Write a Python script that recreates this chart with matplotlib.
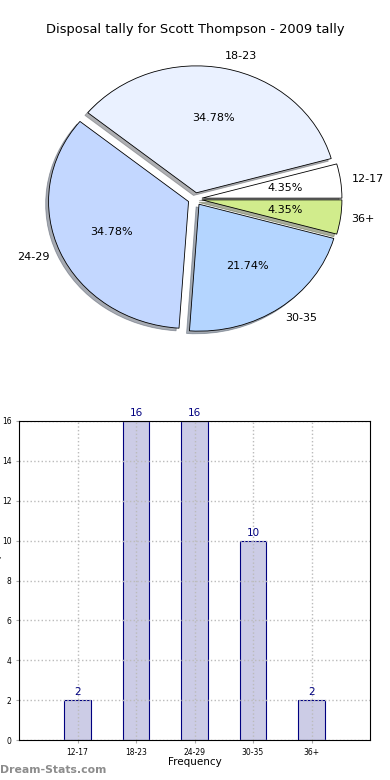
import numpy as np
import matplotlib
matplotlib.use("Agg")
import matplotlib.pyplot as plt

# Data
groups = ["12-17", "18-23", "24-29", "30-35", "36+"]
counts = [2, 16, 16, 10, 2]
pie_colors = ["#ffffff", "#eaf1ff", "#c3d7ff", "#b4d5ff", "#d1ec8c"]

fig = plt.figure(figsize=(3.9, 7.8), dpi=100)

# Pie (elliptical, like the old matplotlib output)
ax1 = fig.add_axes([0.0333, 0.5333, 0.9333, 0.4231])
wedges, texts, autotexts = ax1.pie(
    counts, labels=groups, colors=pie_colors, explode=[0.05] * 5,
    autopct="%.2f%%", startangle=0,
    shadow={"ox": -0.015, "oy": -0.015, "shade": 0.6},
    wedgeprops=dict(edgecolor="black", linewidth=0.6),
    textprops=dict(fontsize=8))
for t in texts:
    x0, y0 = t.get_position()
    t.set_position((x0 - 0.02 * np.sign(x0), y0))
ax1.set_aspect("auto")
ax1.set_xlim(-1.3, 1.3)
ax1.set_ylim(-1.3, 1.3)
ax1.axis("off")

fig.text(0.5, 1 - 30 / 780, "Disposal tally for Scott Thompson - 2009 tally",
         ha="center", va="center", fontsize=9.4)

# Bars
ax2 = fig.add_axes([19 / 390, 40 / 780, 351 / 390, 319 / 780])
x = np.arange(len(groups))
ax2.bar(x, counts, width=0.45, color="#cccce6",
        edgecolor="#000080", linewidth=0.8)
for xi, c in zip(x, counts):
    ax2.text(xi, c + 0.15, str(c), ha="center", va="bottom",
             color="#000080", fontsize=7.5)
ax2.set_xlim(-1, 5)
ax2.set_ylim(0, 16)
ax2.set_xticks(x)
ax2.set_xticklabels(groups)
ax2.set_yticks(range(0, 17, 2))
ax2.tick_params(labelsize=5.5, length=2, color="#aaaaaa")
ax2.set_axisbelow(False)
ax2.grid(True, linestyle=":", color="#bbbbbb", linewidth=1)
for sp in ax2.spines.values():
    sp.set_zorder(5)
ax2.set_xlabel("Frequency", fontsize=7.5, labelpad=0.5)

# y label is mostly cut off at the left edge in the original
fig.text(-2.5 / 390, 1 - 576 / 780, "Scott Thompson", rotation=90,
         ha="center", va="center", fontsize=7.5)
fig.text(0.0, 1 - 770 / 780, "Dream-Stats.com", ha="left", va="center",
         fontsize=7.8, color="#8c8c8c", fontweight="bold")

fig.savefig("out.png", dpi=100)
